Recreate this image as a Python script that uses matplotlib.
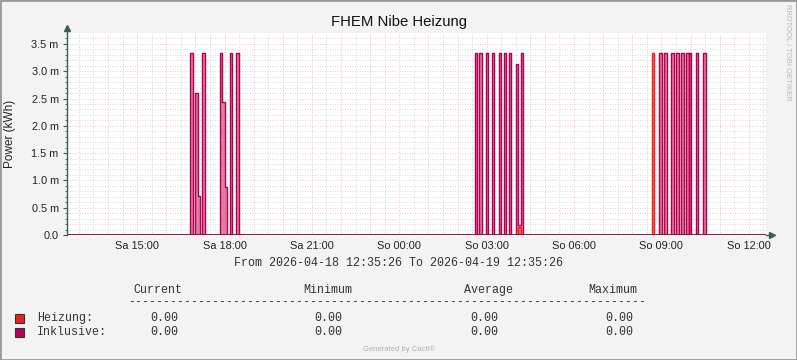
import numpy as np
import matplotlib
matplotlib.use("Agg")
import matplotlib.pyplot as plt
from matplotlib.patches import Rectangle
from matplotlib.lines import Line2D

# x values are hours since Sa 2026-04-18 00:00
x_start, x_end = 12.5906, 36.5906
tick_hours = [15, 18, 21, 24, 27, 30, 33, 36]
tick_labels = ["Sa 15:00", "Sa 18:00", "Sa 21:00", "So 00:00",
               "So 03:00", "So 06:00", "So 09:00", "So 12:00"]
ytick_vals = [0.0, 0.5, 1.0, 1.5, 2.0, 2.5, 3.0, 3.5]
ytick_labels = ["0.0", "0.5 m", "1.0 m", "1.5 m", "2.0 m", "2.5 m", "3.0 m", "3.5 m"]

# step data (value holds from t[i] until t[i+1]), values in milli-kWh
inkl_t = [12.59, 16.82, 16.91, 16.99, 17.08, 17.16, 17.24, 17.33, 17.83, 17.91,
          18.00, 18.07, 18.17, 18.25, 18.41, 18.49,
          26.60, 26.68, 26.74, 26.84, 26.97, 27.04, 27.18, 27.26, 27.42, 27.50,
          27.59, 27.67, 27.77, 27.85, 28.00, 28.07, 28.17, 28.26,
          32.92, 33.01, 33.09, 33.18, 33.34, 33.42, 33.50, 33.60, 33.68, 33.77,
          33.85, 33.93, 33.95, 34.03, 34.19, 34.27, 34.44, 34.53, 36.59]
inkl_v = [0, 3.33, 0, 2.60, 0.72, 0, 3.33, 0, 3.33, 2.43,
          0.88, 0, 3.33, 0, 3.33, 0,
          3.33, 0, 3.33, 0, 3.33, 0, 3.33, 0, 3.33, 0,
          3.33, 0, 3.33, 0, 3.14, 0.18, 3.33, 0,
          3.33, 0, 3.33, 0, 3.33, 0, 3.33, 0, 3.33, 0,
          3.33, 0, 3.33, 0, 3.33, 0, 3.33, 0, 0]
heiz_t = [12.59, 28.07, 28.17, 32.67, 32.75, 36.59]
heiz_v = [0, 0.15, 0, 3.33, 0, 0]

legend_names = ["Heizung:", "Inklusive:"]
legend_colors = ["#E8231F", "#B8005A"]
stat_cols = ["Current", "Minimum", "Average", "Maximum"]
heiz_stats = ["0.00", "0.00", "0.00", "0.00"]
inkl_stats = ["0.00", "0.00", "0.00", "0.00"]

W, H = 797, 360
fig = plt.figure(figsize=(W / 100, H / 100), dpi=100, facecolor="#F3F3F3")
fig.patches.append(Rectangle((0, 0), 1, 1, transform=fig.transFigure, fill=False,
                             edgecolor="#9A9A9A", lw=2))


def px(x, y):
    return x / W, 1 - y / H


ax = fig.add_axes([67 / W, 125 / H, 699 / W, 202 / H])
ax.set_facecolor("white")
ax.set_xlim(x_start, x_end)
ax.set_ylim(0, 3.7)
for s in ax.spines.values():
    s.set_visible(False)

# grid
dot = (0, (1, 2))
for h in np.arange(13, 36.6, 0.5):
    if h % 1 == 0:
        ax.axvline(h, color="#F2B0B0", lw=0.6, ls=dot, zorder=0)
    else:
        ax.axvline(h, color="#CDCDCD", lw=0.6, ls=dot, zorder=0)
for v in np.arange(0.1, 3.7, 0.1):
    if abs(v * 2 - round(v * 2)) < 1e-6:
        ax.axhline(v, color="#F2B0B0", lw=0.6, ls=dot, zorder=0)
    else:
        ax.axhline(v, color="#CDCDCD", lw=0.6, ls=dot, zorder=0)

# data
ax.fill_between(inkl_t, inkl_v, step="post", color="#D6487A", alpha=0.7, lw=0, zorder=2)
ax.step(inkl_t, inkl_v, where="post", color="#B0004F", lw=1.0, zorder=3)
ax.fill_between(heiz_t, heiz_v, step="post", color="#EE6050", alpha=0.8, lw=0, zorder=4)
ax.step(heiz_t, heiz_v, where="post", color="#E8231F", lw=1.0, zorder=4)
ax.axhline(0, color="#7A1436", lw=1.3, zorder=5)

# axes lines with arrows
axis_c = "#3A5E55"
ax.add_line(Line2D([0, 0], [0, 1.02], transform=ax.transAxes, color=axis_c,
                   lw=1.0, clip_on=False, zorder=6))
ax.plot([0], [1.025], marker="^", ms=5, color=axis_c, transform=ax.transAxes,
        clip_on=False, zorder=6)
ax.add_line(Line2D([1.0, 1.006], [0, 0], transform=ax.transAxes, color=axis_c,
                   lw=1.0, clip_on=False, zorder=6))
ax.plot([1.008], [0], marker=">", ms=5, color=axis_c, transform=ax.transAxes,
        clip_on=False, zorder=6)

ax.set_xticks(tick_hours)
ax.set_xticklabels(tick_labels, fontsize=7.9, family="Liberation Sans", color="#222222")
ax.set_yticks(ytick_vals)
ax.set_yticklabels(ytick_labels, fontsize=7.8, family="Liberation Sans", color="#222222")
ax.set_yticks(np.arange(0, 3.65, 0.1), minor=True)
ax.tick_params(axis="x", length=0, pad=4)
ax.tick_params(axis="y", which="major", length=3, width=0.8, color=axis_c, pad=3)
ax.tick_params(axis="y", which="minor", length=1.5, width=0.6, color=axis_c)

fig.text(*px(399, 22), "FHEM Nibe Heizung", ha="center", va="center",
         fontsize=10.7, family="Liberation Sans", color="#111111")
fig.text(*px(10, 134), "Power (kWh)", ha="center", va="center", rotation=90,
         fontsize=8.5, family="Liberation Sans", color="#222222")
fig.text(*px(398, 263), "From 2026-04-18 12:35:26 To 2026-04-19 12:35:26",
         ha="center", va="center", fontsize=8.4, family="Liberation Mono", color="#333333")

# legend block
mono = dict(family="Liberation Mono", fontsize=8.4, color="#333333", va="center")
for name, xc in zip(stat_cols, [158, 328, 488, 613]):
    fig.text(*px(xc, 290), name, ha="center", **mono)
fig.text(*px(128, 302), "-" * 74, ha="left", **mono)
for i, (name, col, stats) in enumerate(zip(legend_names, legend_colors,
                                           [heiz_stats, inkl_stats])):
    yy = 318 + i * 14
    fig.patches.append(Rectangle(px(15, yy + 5), 9 / W, 9 / H, transform=fig.transFigure,
                                 facecolor=col, edgecolor="#333333", lw=0.8))
    fig.text(*px(37, yy), name, ha="left", **mono)
    for val, xc in zip(stats, [164, 328, 484, 619]):
        fig.text(*px(xc, yy), val, ha="center", **mono)

fig.text(*px(399, 349), "Generated by Cacti\u00ae", ha="center", va="center",
         fontsize=5.5, family="Liberation Sans", color="#B0B0B0")
fig.text(*px(787, 52), "RRDTOOL / TOBI OETIKER", ha="center", va="center", rotation=270,
         fontsize=5.5, family="Liberation Sans", color="#B8B8B8")

fig.savefig("out.png", dpi=100, facecolor=fig.get_facecolor())
